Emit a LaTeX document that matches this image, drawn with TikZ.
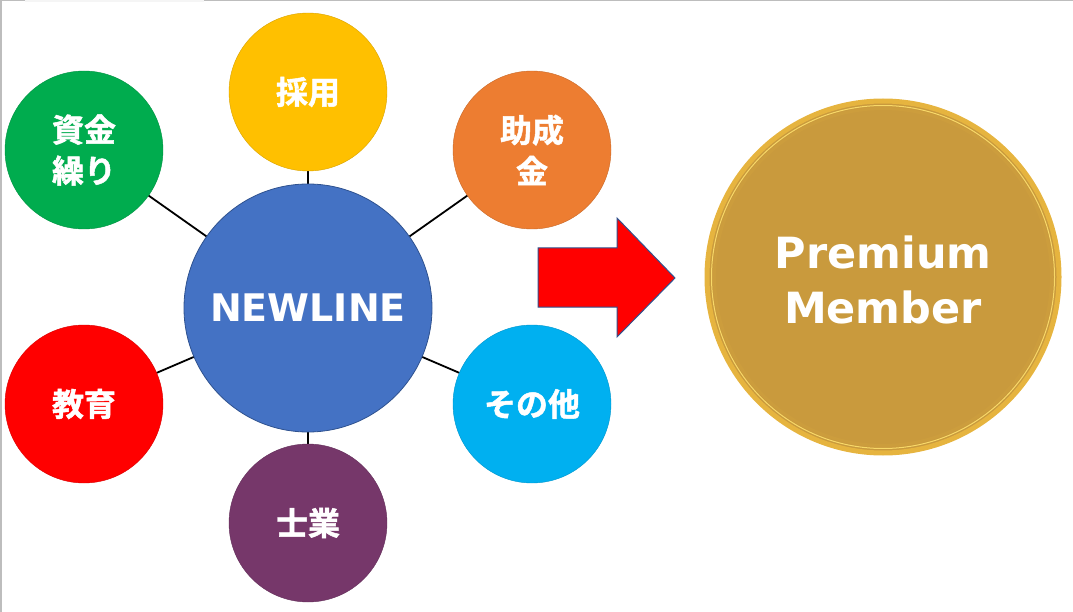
\documentclass[tikz,border=0pt]{standalone}
\usepackage{fontspec}
\setmainfont{DejaVu Sans}
\newfontfamily\cjk{Noto Sans CJK JP}[BoldFont={Noto Sans CJK JP Bold}, BoldFeatures={FakeBold=1.5}]
\usetikzlibrary{backgrounds}
\definecolor{cgreen}{HTML}{00AC4E}
\definecolor{cyellow}{HTML}{FFC000}
\definecolor{corange}{HTML}{ED7D31}
\definecolor{cred}{HTML}{FF0000}
\definecolor{ccyan}{HTML}{00B0F0}
\definecolor{cpurple}{HTML}{76376A}
\definecolor{cblue}{HTML}{4472C4}
\definecolor{cblueline}{HTML}{2F528F}
\definecolor{cgold}{HTML}{C99A3D}
\definecolor{cgoldring}{HTML}{E6B43F}
\definecolor{cgoldhi}{HTML}{F8D868}
\definecolor{cframe}{HTML}{BDBDBD}
\tikzset{
  topic/.style={circle, minimum size=158pt, inner sep=0pt, draw=#1!85!black, line width=0.4pt, fill=#1,
    text=white, font=\cjk\bfseries\fontsize{32}{41}\selectfont, align=center},
  link/.style={draw=black, line width=1.8pt},
}
\begin{document}
\begin{tikzpicture}[x=1pt,y=-1pt]
\useasboundingbox (0,0) rectangle (1073,612);
% frame
\fill[black!4] (25,0) rectangle (204,2.5);
\draw[cframe, line width=1.5pt] (0.75,612) -- (0.75,0.75) -- (25,0.75);
\draw[cframe, line width=1.5pt] (204,0.75) -- (1073,0.75);
% central node
\node[circle, minimum size=248pt, inner sep=0pt, fill=cblue, draw=cblueline, line width=0.8pt,
  text=white, font=\bfseries\fontsize{38}{44}\selectfont] (nl) at (308,308) {NEWLINE};
\node[topic=cyellow] (saiyo) at (308,92) {採用};
\node[topic=cgreen] (shikin) at (84,150) {資金\\繰り};
\node[topic=corange] (josei) at (532,150) {助成\\金};
\node[topic=cred] (kyoiku) at (84,404) {教育};
\node[topic=ccyan] (sonota) at (532,404) {その他};
\node[topic=cpurple] (shigyo) at (308,523) {士業};
\begin{scope}[on background layer]
\foreach \t in {saiyo,shikin,josei,kyoiku,sonota,shigyo}
  \draw[link] (nl.center) -- (\t.center);
\end{scope}
% arrow
\coordinate (a1) at (538,248);
\coordinate (a2) at (617,248);
\coordinate (a3) at (617,218);
\coordinate (a4) at (675,278);
\coordinate (a5) at (617,337);
\coordinate (a6) at (617,307);
\coordinate (a7) at (538,307);
\draw[fill=cred, draw=cblueline, line width=1pt, line join=miter]
  (a1) -- (a2) -- (a3) -- (a4) -- (a5) -- (a6) -- (a7) -- cycle;
% premium member
\node[circle, minimum size=352pt, inner sep=0pt, fill=cgold, draw=cgoldring, line width=5pt] (pm) at (883,277) {};
\draw[cgoldhi, line width=1pt] (pm.center) circle[radius=171.5];
\draw[cgold!80!cgoldring, line width=3pt, opacity=0.6] (pm.center) circle[radius=168.5];
\node[text=white, font=\bfseries\fontsize{43}{55}\selectfont, align=center] (pmt) at (883,280) {Premium\\Member};
\end{tikzpicture}
\end{document}
